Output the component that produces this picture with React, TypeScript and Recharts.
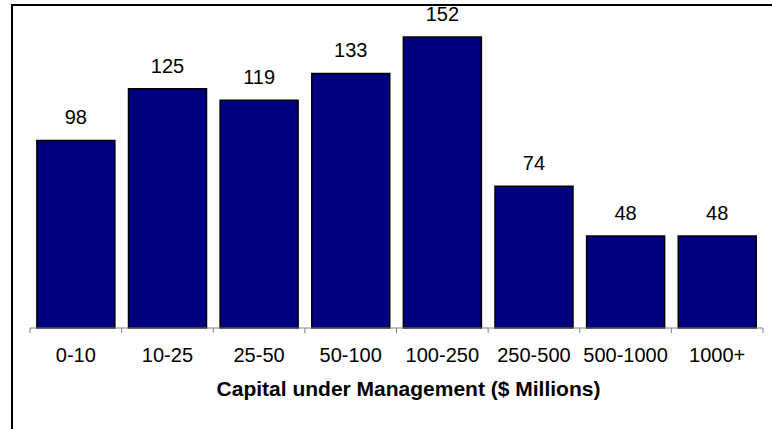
import { BarChart, Bar, XAxis, YAxis, LabelList } from 'recharts'

const categories = ['0-10', '10-25', '25-50', '50-100', '100-250', '250-500', '500-1000', '1000+']
const funds = [98, 125, 119, 133, 152, 74, 48, 48]

const data = categories.map((name, i) => ({ name, funds: funds[i] }))

const FONT = '"Liberation Sans", Arial, sans-serif'

// tick label at the band centre, tick mark on the band edge(s)
function BoundaryTick(props: any) {
  const { x, y, payload, index } = props
  const half = payload?.offset ?? 0
  const last = index === categories.length - 1
  return (
    <g>
      <line x1={x - half} x2={x - half} y1={y - 11} y2={y - 6} stroke="#808080" />
      {last && <line x1={x + half} x2={x + half} y1={y - 11} y2={y - 6} stroke="#808080" />}
      <text x={x} y={y + 23} textAnchor="middle" fill="#000" fontSize={20} fontFamily={FONT}>
        {payload.value}
      </text>
    </g>
  )
}

export default function App() {
  return (
    <div
      style={{
        position: 'absolute',
        left: 0,
        top: 0,
        width: 772,
        height: 429,
        overflow: 'hidden',
        background: '#fff',
      }}
    >
      <div
        style={{
          position: 'absolute',
          left: 11,
          top: 4,
          width: 900,
          height: 600,
          borderLeft: '2.5px solid #000',
          borderTop: '2.5px solid #000',
        }}
      />
      <BarChart
        width={772}
        height={429}
        data={data}
        margin={{ top: 37, right: 9, bottom: 0, left: 30 }}
        barCategoryGap="7.5%"
        style={{ position: 'absolute', left: 0, top: 0 }}
      >
        <XAxis
          dataKey="name"
          height={101}
          stroke="#808080"
          tickLine={false}
          tickSize={5}
          tickMargin={6}
          tick={<BoundaryTick />}
          interval={0}
          label={{
            value: 'Capital under Management ($ Millions)',
            position: 'insideBottom',
            offset: 33,
            dx: 12,
            fill: '#000',
            fontSize: 21,
            fontWeight: 'bold',
            fontFamily: FONT,
          }}
        />
        <YAxis hide domain={[0, 152]} width={0} />
        <Bar dataKey="funds" fill="#000080" stroke="#000" strokeWidth={1.5} isAnimationActive={false}>
          <LabelList
            dataKey="funds"
            position="top"
            offset={16}
            fill="#000"
            fontSize={20}
            fontFamily={FONT}
          />
        </Bar>
      </BarChart>
    </div>
  )
}
